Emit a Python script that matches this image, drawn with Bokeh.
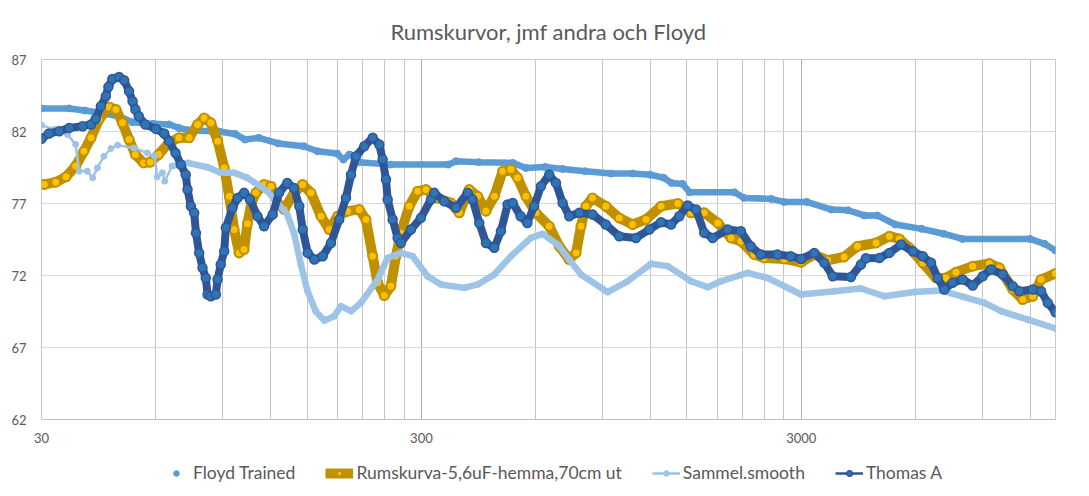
from bokeh.plotting import figure
from bokeh.layouts import column
from bokeh.models import Range1d, FixedTicker, NumeralTickFormatter, Legend, LegendItem, ColumnDataSource
from bokeh.embed import file_html
from bokeh.resources import INLINE

# ---------------- data (Hz, dB) ----------------
floyd_f = [30, 35.5, 39, 43, 48, 52, 59, 65, 69, 73, 88, 97, 103, 112, 126, 147, 160, 180, 187, 194,
           206, 249, 353, 370, 425, 522, 565, 636, 706, 810, 947, 1080, 1200, 1300, 1365, 1460, 1525,
           2000, 2120, 2500, 2700, 3100, 3600, 3980, 4390, 4750, 5300, 6220, 7100, 7960, 12000, 13100, 14000]
floyd_v = [83.6, 83.6, 83.46, 83.3, 83.06, 82.65, 82.53, 82.49, 82.25, 82.09, 82.0, 81.83, 81.44, 81.56,
           81.17, 80.98, 80.63, 80.47, 80.05, 80.4, 79.87, 79.7, 79.7, 79.94, 79.87, 79.82, 79.47, 79.54,
           79.4, 79.24, 79.08, 79.08, 79.0, 78.8, 78.43, 78.36, 77.78, 77.78, 77.39, 77.32, 77.11, 77.11,
           76.58, 76.53, 76.17, 76.17, 75.54, 75.24, 74.9, 74.54, 74.54, 74.2, 73.74]

rum_f = [30.5, 32.7, 34.8, 36.9, 38.8, 40.5, 42.5, 45.2, 47.1, 49.0,
         51.0, 53.0, 55.7, 58.0, 61.0, 64.9, 69.0, 73.4, 77.3, 80.4,
         83.7, 87.3, 90.8, 93.6, 96.4, 99.4, 102.4, 104.5, 107, 110.0,
         115.6, 120.5, 125.5, 130.6, 138.7, 146, 153.6, 163.2, 171.6, 180.5,
         191.7, 205.8, 214.3, 223.3, 230, 239.5, 249.4, 257, 264.9, 278.6,
         293.2, 308.3, 331, 358.7, 377.3, 400.6, 421.9, 443.6, 466.6, 490.8,
         516.1, 537.4, 565.2, 600.4, 651.1, 691.7, 735, 766, 789, 813,
         846.4, 917.5, 995, 1079, 1170, 1282, 1419, 1538, 1666, 1808,
         1959, 2080, 2254, 2394, 2705, 2995, 3245, 3518, 3890, 4216,
         4718, 5115, 5434, 5774, 6261, 6786, 7208, 7660, 8475, 9377,
         9963, 10803, 11477, 12198, 12826, 14000]
rum_v = [78.32, 78.48, 78.85, 79.6, 80.63, 81.56, 82.83, 83.71, 83.53, 82.6,
         81.44, 80.4, 79.82, 79.87, 80.4, 81.21, 81.56, 81.56, 82.49, 82.94,
         82.6, 81.33, 79.47, 77.5, 75.19, 73.57, 73.8, 75.6, 77.0, 77.74,
         78.32, 78.2, 77.04, 76.58, 77.74, 78.32, 77.74, 76.12, 75.19, 76.12,
         76.47, 76.58, 75.89, 73.34, 71.49, 70.61, 71.26, 73.34, 74.96, 76.81,
         77.85, 77.97, 77.39, 77.04, 76.35, 77.97, 77.5, 76.47, 77.5, 79.24,
         79.36, 78.78, 77.5, 76.35, 75.42, 74.03, 73.11, 73.57, 75.42, 76.81,
         77.39, 76.81, 76.0, 75.54, 75.89, 76.81, 77.0, 76.35, 76.35, 75.65,
         74.61, 74.38, 73.46, 73.22, 73.15, 72.92, 73.46, 73.06, 73.29, 74.03,
         74.26, 74.73, 74.54, 73.92, 72.88, 71.83, 71.83, 72.23, 72.65, 72.83,
         72.53, 71.03, 70.33, 70.56, 71.72, 72.14]

sam_f = [30, 32.4, 35.1, 36.9, 37.7, 39.6, 40.9, 42.1, 43.8, 45.7,
         47.6, 52.5, 57, 59.5, 60.5, 62.4, 63.3, 66.2, 72.7, 82.1,
         88.8, 96.4, 104.5, 118, 133, 138.7, 144.5, 150.5, 158.2, 166.5,
         176.8, 184.1, 195.8, 207.9, 230, 244.4, 264.9, 284.5, 311.4, 337.6,
         388.9, 421.9, 466.6, 516.1, 582.5, 625.6, 685, 789, 928, 1047,
         1206, 1335, 1538, 1701, 1843, 2167, 2445, 2995, 3665, 4305,
         4962, 5952, 6997, 8056, 9096, 10066, 11840, 14000]
sam_v = [82.44, 82.14, 81.8, 81.1, 79.24, 79.24, 78.78, 79.47, 80.28, 80.82,
         81.05, 80.86, 80.51, 80.28, 78.85, 79.13, 78.55, 79.6, 79.82, 79.52,
         79.13, 79.13, 78.78, 77.85, 76.24, 74.9, 72.76, 70.9, 69.5, 68.87,
         69.17, 69.87, 69.52, 70.1, 71.72, 73.22, 73.57, 73.34, 71.95, 71.38,
         71.14, 71.38, 72.07, 73.34, 74.61, 74.89, 74.15, 72.07, 70.84, 71.6,
         72.81, 72.65, 71.6, 71.19, 71.6, 72.18, 71.83, 70.68, 70.91, 71.1,
         70.56, 70.86, 70.96, 70.5, 70.1, 69.52, 68.94, 68.32]

tho_f = [30, 31.4, 33.4, 35.5, 38.5, 40.5, 41.7, 43.0, 44.3, 45.0,
         46.1, 48.0, 49.5, 51.0, 52.1, 53.0, 54.1, 56.3, 60.0, 63.1,
         65.0, 67.6, 69.8, 71.9, 72.7, 74.2, 75.7, 76.5, 78.0, 79.6,
         81.2, 82.1, 83.7, 86.3, 87.2, 88.9, 90.8, 91.7, 95.5, 98.5,
         102.4, 106, 111.1, 115.6, 121.8, 126.6, 133.1, 138.5, 143.1, 146.1,
         150.6, 156.8, 165.0, 173.4, 182.3, 189.9, 195.8, 201.8, 212.2, 223.3,
         232.4, 237.2, 242.0, 244.5, 252.0, 259.7, 264.9, 281.5, 299.1, 317.8,
         324.3, 344.5, 370, 397, 409, 426, 443.6, 466.6, 485.7, 505.9,
         521.6, 547.2, 570, 594, 619, 651, 678, 706, 735, 781,
         846, 917, 995, 1101, 1194, 1282, 1362, 1432, 1507, 1585,
         1666, 1753, 1920, 2080, 2208, 2345, 2595, 2813, 2995, 3245,
         3448, 3628, 4053, 4306, 4438, 4816, 5115, 5491, 5896, 6261,
         6585, 6855, 7134, 7505, 7976, 8475, 9007, 9472, 10167, 10803,
         11250, 12198, 12826, 13360, 14000]
tho_v = [81.49, 81.86, 82.02, 82.25, 82.37, 82.49, 82.88, 83.76, 84.45, 85.1,
         85.65, 85.79, 85.56, 84.8, 84.1, 83.53, 83.06, 82.49, 82.18, 81.86,
         81.33, 80.51, 79.7, 79.0, 77.97, 76.81, 76.35, 74.96, 73.57, 72.53,
         71.83, 70.68, 70.56, 70.68, 71.72, 72.76, 73.69, 75.31, 76.7, 77.39,
         77.74, 77.3, 76.12, 75.42, 76.24, 77.74, 78.43, 78.08, 76.81, 75.19,
         73.57, 73.11, 73.34, 74.26, 75.89, 77.39, 79.0, 80.28, 80.98, 81.56,
         81.1, 80.05, 78.67, 77.28, 75.89, 74.61, 74.26, 75.19, 76.0, 77.28,
         77.74, 77.16, 76.7, 77.74, 77.28, 75.65, 74.26, 73.92, 75.08, 76.93,
         77.04, 76.12, 75.65, 76.81, 78.2, 79.0, 78.43, 77.04, 76.12, 76.35,
         76.24, 75.54, 74.73, 74.61, 75.19, 75.7, 75.54, 76.12, 76.86, 76.58,
         74.96, 74.61, 75.19, 75.08, 74.03, 73.46, 73.46, 73.34, 73.15, 73.57,
         72.88, 71.95, 71.9, 72.76, 73.2, 73.22, 73.57, 74.15, 73.69, 73.34,
         72.88, 71.83, 71.03, 71.49, 71.72, 71.31, 71.95, 72.42, 72.07, 71.26,
         70.91, 71.03, 70.91, 70.1, 69.45]

names = ["Floyd Trained", "Rumskurva-5,6uF-hemma,70cm ut", "Sammel.smooth", "Thomas A"]
title = "Rumskurvor, jmf andra och Floyd"
x_major = [30, 300, 3000]
x_minor = [60, 90, 120, 150, 180, 210, 240, 270, 600, 900, 1200, 1500, 1800, 2100, 2400, 2700,
           6000, 9000, 12000]
y_ticks = [62, 67, 72, 77, 82, 87]

# ---------------- styling ----------------
FONT = "Lato"
TXT = "#595959"
C_FLOYD = "#5B9BD5"
C_RUM_L, C_RUM_F = "#BF9000", "#FFC000"
C_SAM = "#9DC3E6"
C_THO_L, C_THO_F = "#2F5597", "#2E75B6"

p = figure(frame_width=1014, frame_height=360, x_axis_type="log",
           x_range=Range1d(30, 14000), y_range=Range1d(62, 87),
           output_backend="svg", toolbar_location=None,
           min_border_left=41, min_border_right=34, min_border_top=58, min_border_bottom=38,
           background_fill_color="white", border_fill_color="white")
p.outline_line_color = "#C8C8C8"

p.title.text = title
p.title.align = "center"
p.title.vertical_align = "bottom"
p.title.standoff = 30
p.title.text_font = FONT
p.title.text_font_size = "22px"
p.title.text_font_style = "normal"
p.title.text_color = TXT

p.xaxis.ticker = FixedTicker(ticks=x_major, minor_ticks=x_minor)
p.xaxis.formatter = NumeralTickFormatter(format="0")
p.yaxis.ticker = FixedTicker(ticks=y_ticks)
for ax in (p.xaxis, p.yaxis):
    ax.major_tick_line_color = None
    ax.minor_tick_line_color = None
    ax.major_tick_out = 0
    ax.major_tick_in = 0
    ax.minor_tick_out = 0
    ax.minor_tick_in = 0
    ax.major_label_text_font = FONT
    ax.major_label_text_font_size = "13px"
    ax.major_label_text_color = TXT
p.xaxis.axis_line_color = "#BFBFBF"
p.yaxis.axis_line_color = None
p.xaxis.major_label_standoff = 13
p.yaxis.major_label_standoff = 15

p.xgrid.grid_line_color = "#ADADAD"
p.xgrid.minor_grid_line_color = "#C6C6C6"
p.ygrid.grid_line_color = "#D9D9D9"

# Floyd Trained (markers only, dense -> band)
p.line(floyd_f, floyd_v, line_width=6.5, color=C_FLOYD)
p.scatter(floyd_f, floyd_v, size=7, color=C_FLOYD)

# Rumskurva (gold thick with yellow markers)
p.line(rum_f, rum_v, line_width=10, color=C_RUM_L)
p.scatter(rum_f, rum_v, size=9, fill_color=C_RUM_F, line_color=C_RUM_L, line_width=2)

# Sammel.smooth
src_sam = ColumnDataSource(dict(f=sam_f, v=sam_v))
band_mask = [f >= 66 for f in sam_f]
p.line("f", "v", source=src_sam, line_width=2.5, color=C_SAM)
p.line(x=[f for f, m in zip(sam_f, band_mask) if m], y=[v for v, m in zip(sam_v, band_mask) if m],
       line_width=6.5, color=C_SAM)
p.scatter("f", "v", source=src_sam, size=6, color=C_SAM)

# Thomas A
p.line(tho_f, tho_v, line_width=8, color=C_THO_L)
p.scatter(tho_f, tho_v, size=9, fill_color=C_THO_F, line_color=C_THO_L, line_width=1.5)

# ---------------- legend strip (separate figure below) ----------------
lg = figure(width=1089, height=32, x_range=Range1d(0, 1), y_range=Range1d(0, 1),
            output_backend="svg", toolbar_location=None, min_border=0,
            x_axis_location=None, y_axis_location=None,
            background_fill_color="white", border_fill_color="white")
lg.outline_line_color = None
lg.xgrid.visible = False
lg.ygrid.visible = False
# off-range placeholder glyphs: only their legend swatches are visible
hx, hy = [-5], [-5]
l_floyd = lg.scatter(hx, hy, size=7, color=C_FLOYD)
l_rum_line = lg.line(hx, hy, line_width=10, color=C_RUM_L)
l_rum_sc = lg.scatter(hx, hy, size=8, fill_color=C_RUM_F, line_color=C_RUM_L, line_width=2)
l_sam_line = lg.line(hx, hy, line_width=2.5, color=C_SAM)
l_sam_sc = lg.scatter(hx, hy, size=6, color=C_SAM)
l_tho_line = lg.line(hx, hy, line_width=2.5, color=C_THO_L)
l_tho_sc = lg.scatter(hx, hy, size=8, fill_color=C_THO_F, line_color=C_THO_L, line_width=1.5)

legend = Legend(items=[
    LegendItem(label=names[0], renderers=[l_floyd]),
    LegendItem(label=names[1], renderers=[l_rum_line, l_rum_sc]),
    LegendItem(label=names[2], renderers=[l_sam_line, l_sam_sc]),
    LegendItem(label=names[3], renderers=[l_tho_line, l_tho_sc]),
], orientation="horizontal", location=(121, 6),
    label_text_font=FONT, label_text_font_size="17.5px", label_text_color=TXT,
    glyph_width=28, glyph_height=14, label_standoff=3, spacing=30,
    border_line_color=None, background_fill_alpha=0, padding=0, margin=0)
lg.add_layout(legend)

layout = column(p, lg, spacing=0)
open("out.html", "w").write(file_html(layout, INLINE))
